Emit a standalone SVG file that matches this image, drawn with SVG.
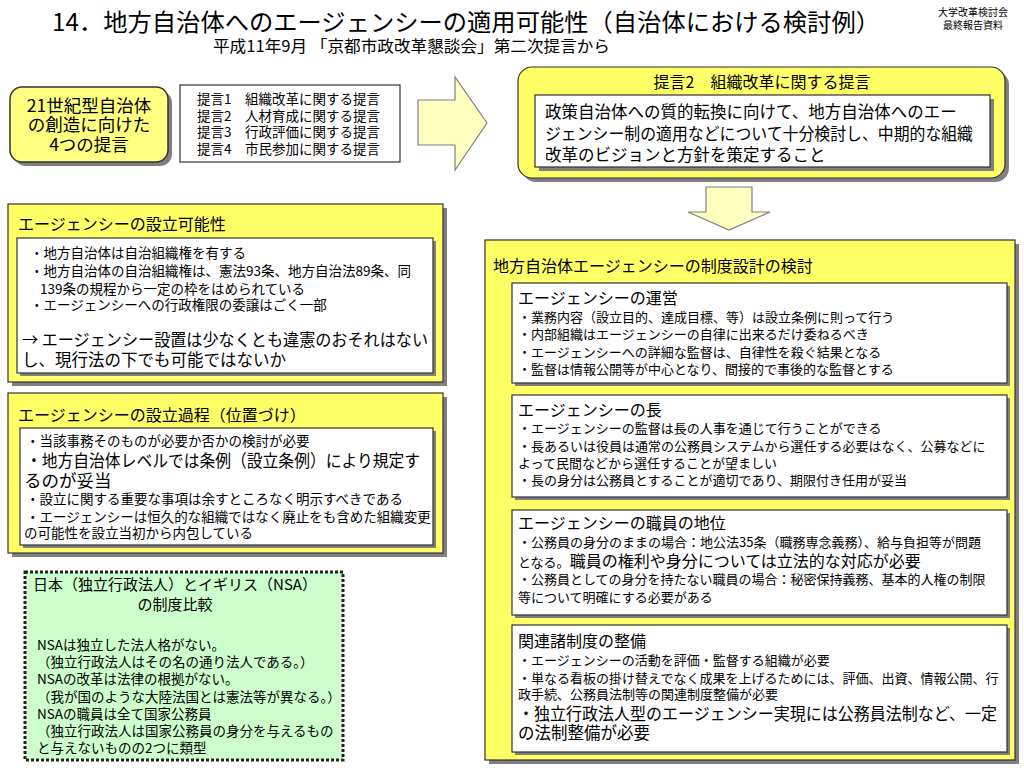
<svg xmlns="http://www.w3.org/2000/svg" width="1024" height="768" viewBox="0 0 1024 768">
<defs>
<style>
text{font-family:"Noto Sans CJK JP","Noto Sans CJK SC",sans-serif;fill:#000}
.t24{font-size:24px}
.t16{font-size:16px}
.t165{font-size:16.5px}
.t175{font-size:17.5px}
.t15{font-size:15px}
.t13{font-size:13px}
.t135{font-size:13.5px}
.t10{font-size:10px}
.c{text-anchor:middle}
.sh{fill:#808080}
.yel{fill:#ffff66;stroke:#333;stroke-width:1.2}
.yel2{fill:#ffff80;stroke:#333;stroke-width:1.5}
.wh{fill:#fff;stroke:#333;stroke-width:1.2}
.arr{fill:#ffffc0;stroke:#808080;stroke-width:1.2}
</style>
</defs>
<rect width="1024" height="768" fill="#fff"/>

<g id="title">
<text class="t24" x="52" y="31" textLength="828" lengthAdjust="spacingAndGlyphs">14．地方自治体へのエージェンシーの適用可能性（自治体における検討例）</text>
<text class="t16" x="213" y="52" textLength="397" lengthAdjust="spacingAndGlyphs">平成11年9月 「京都市政改革懇談会」第二次提言から</text>
<text class="t10" x="973" y="16" text-anchor="middle">大学改革検討会</text>
<text class="t10" x="973" y="29" text-anchor="middle">最終報告資料</text>
</g>

<g id="n-proposals4">
<rect class="sh" x="14" y="91" width="158" height="75" rx="12"/>
<rect class="yel2" x="10" y="87" width="158" height="75" rx="12"/>
<text class="t175 c" x="89" y="112">21世紀型自治体</text>
<text class="t175 c" x="89" y="131">の創造に向けた</text>
<text class="t175 c" x="89" y="151">4つの提言</text>
</g>

<g id="n-list">
<rect class="wh" x="180" y="85" width="220" height="77"/>
<text class="t135" x="197" y="104">提言1　組織改革に関する提言</text>
<text class="t135" x="197" y="121">提言2　人材育成に関する提言</text>
<text class="t135" x="197" y="137">提言3　行政評価に関する提言</text>
<text class="t135" x="197" y="154">提言4　市民参加に関する提言</text>
</g>

<g id="connectors">
<polygon class="arr" points="418,100 455,100 455,77 487,123 455,170 455,145 418,145"/>
<polygon class="arr" points="706,187 752,187 752,212 770,212 729,230 688,212 706,212"/>
</g>

<g id="n-proposal2">
<rect class="sh" x="522" y="71" width="487" height="111" rx="14"/>
<rect class="yel" x="518" y="67" width="487" height="111" rx="14"/>
<text class="t16 c" x="762" y="88">提言2　組織改革に関する提言</text>
<rect class="sh" x="539" y="99" width="455" height="72"/>
<rect class="wh" x="535" y="95" width="455" height="72"/>
<text class="t165" x="545" y="118">政策自治体への質的転換に向けて、地方自治体へのエー</text>
<text class="t165" x="545" y="140" textLength="428" lengthAdjust="spacingAndGlyphs">ジェンシー制の適用などについて十分検討し、中期的な組織</text>
<text class="t165" x="545" y="161">改革のビジョンと方針を策定すること</text>
</g>

<g id="n-design">
<rect class="sh" x="489" y="244" width="530" height="520"/>
<rect class="yel" x="485" y="240" width="530" height="520"/>
<text class="t16" x="493" y="272">地方自治体エージェンシーの制度設計の検討</text>

<rect class="sh" x="515" y="286" width="495" height="100"/>
<rect class="wh" x="512" y="283" width="495" height="100"/>
<text class="t16" x="518" y="304">エージェンシーの運営</text>
<text class="t13" x="518" y="322">・業務内容（設立目的、達成目標、等）は設立条例に則って行う</text>
<text class="t13" x="518" y="339">・内部組織はエージェンシーの自律に出来るだけ委ねるべき</text>
<text class="t13" x="518" y="357">・エージェンシーへの詳細な監督は、自律性を殺ぐ結果となる</text>
<text class="t13" x="518" y="374">・監督は情報公開等が中心となり、間接的で事後的な監督とする</text>

<rect class="sh" x="515" y="398" width="495" height="102"/>
<rect class="wh" x="512" y="395" width="495" height="102"/>
<text class="t16" x="518" y="416">エージェンシーの長</text>
<text class="t13" x="518" y="433">・エージェンシーの監督は長の人事を通じて行うことができる</text>
<text class="t13" x="518" y="451">・長あるいは役員は通常の公務員システムから選任する必要はなく、公募などに</text>
<text class="t13" x="518" y="468">よって民間などから選任することが望ましい</text>
<text class="t13" x="518" y="485">・長の身分は公務員とすることが適切であり、期限付き任用が妥当</text>

<rect class="sh" x="515" y="513" width="495" height="105"/>
<rect class="wh" x="512" y="510" width="495" height="105"/>
<text class="t16" x="518" y="529">エージェンシーの職員の地位</text>
<text class="t13" x="518" y="547">・公務員の身分のままの場合：地公法35条（職務専念義務）、給与負担等が問題</text>
<text class="t13" x="518" y="567">となる。<tspan class="t16">職員の権利や身分については立法的な対応が必要</tspan></text>
<text class="t13" x="518" y="584">・公務員としての身分を持たない職員の場合：秘密保持義務、基本的人権の制限</text>
<text class="t13" x="518" y="602">等について明確にする必要がある</text>

<rect class="sh" x="515" y="628" width="495" height="127"/>
<rect class="wh" x="512" y="625" width="495" height="127"/>
<text class="t16" x="518" y="647">関連諸制度の整備</text>
<text class="t13" x="518" y="665">・エージェンシーの活動を評価・監督する組織が必要</text>
<text class="t13" x="518" y="683">・単なる看板の掛け替えでなく成果を上げるためには、評価、出資、情報公開、行</text>
<text class="t13" x="518" y="699">政手続、公務員法制等の関連制度整備が必要</text>
<text class="t165" x="518" y="720" textLength="479" lengthAdjust="spacingAndGlyphs">・独立行政法人型のエージェンシー実現には公務員法制など、一定</text>
<text class="t165" x="518" y="739">の法制整備が必要</text>
</g>

<g id="n-possibility">
<rect class="sh" x="12" y="208" width="435" height="178"/>
<rect class="yel" x="8" y="204" width="435" height="178"/>
<text class="t16" x="18" y="230">エージェンシーの設立可能性</text>
<rect class="sh" x="20" y="241" width="416" height="135"/>
<rect class="wh" x="17" y="238" width="416" height="135"/>
<text class="t135" x="30" y="258">・地方自治体は自治組織権を有する</text>
<text class="t135" x="30" y="276">・地方自治体の自治組織権は、憲法93条、地方自治法89条、同</text>
<text class="t135" x="40" y="294">139条の規程から一定の枠をはめられている</text>
<text class="t135" x="30" y="310">・エージェンシーへの行政権限の委譲はごく一部</text>
<text class="t165" x="22" y="346" textLength="406" lengthAdjust="spacingAndGlyphs">→ エージェンシー設置は少なくとも違憲のおそれはない</text>
<text class="t165" x="22" y="366">し、現行法の下でも可能ではないか</text>
</g>

<g id="n-process">
<rect class="sh" x="12" y="397" width="435" height="160"/>
<rect class="yel" x="8" y="393" width="435" height="160"/>
<text class="t16" x="18" y="421">エージェンシーの設立過程（位置づけ）</text>
<rect class="sh" x="23" y="431" width="413" height="117"/>
<rect class="wh" x="20" y="428" width="413" height="117"/>
<text class="t135" x="26" y="446">・当該事務そのものが必要か否かの検討が必要</text>
<text class="t175" x="26" y="467" textLength="394" lengthAdjust="spacingAndGlyphs">・地方自治体レベルでは条例（設立条例）により規定す</text>
<text class="t175" x="24" y="487">るのが妥当</text>
<text class="t135" x="26" y="504">・設立に関する重要な事項は余すところなく明示すべきである</text>
<text class="t135" x="26" y="522">・エージェンシーは恒久的な組織ではなく廃止をも含めた組織変更</text>
<text class="t135" x="24" y="538">の可能性を設立当初から内包している</text>
</g>

<g id="n-compare">
<rect x="25" y="572" width="318" height="188" fill="#ccffcc" stroke="#222" stroke-width="3" stroke-dasharray="3,2"/>
<text class="t15 c" x="175" y="590">日本（独立行政法人）とイギリス（NSA）</text>
<text class="t15 c" x="175" y="610">の制度比較</text>
<text class="t135" x="37" y="650">NSAは独立した法人格がない。</text>
<text class="t135" x="37" y="667">（独立行政法人はその名の通り法人である。）</text>
<text class="t135" x="37" y="684">NSAの改革は法律の根拠がない。</text>
<text class="t135" x="37" y="702">（我が国のような大陸法国とは憲法等が異なる。）</text>
<text class="t135" x="37" y="719">NSAの職員は全て国家公務員</text>
<text class="t135" x="37" y="736">（独立行政法人は国家公務員の身分を与えるもの</text>
<text class="t135" x="37" y="753">と与えないものの2つに類型</text>
</g>
</svg>
